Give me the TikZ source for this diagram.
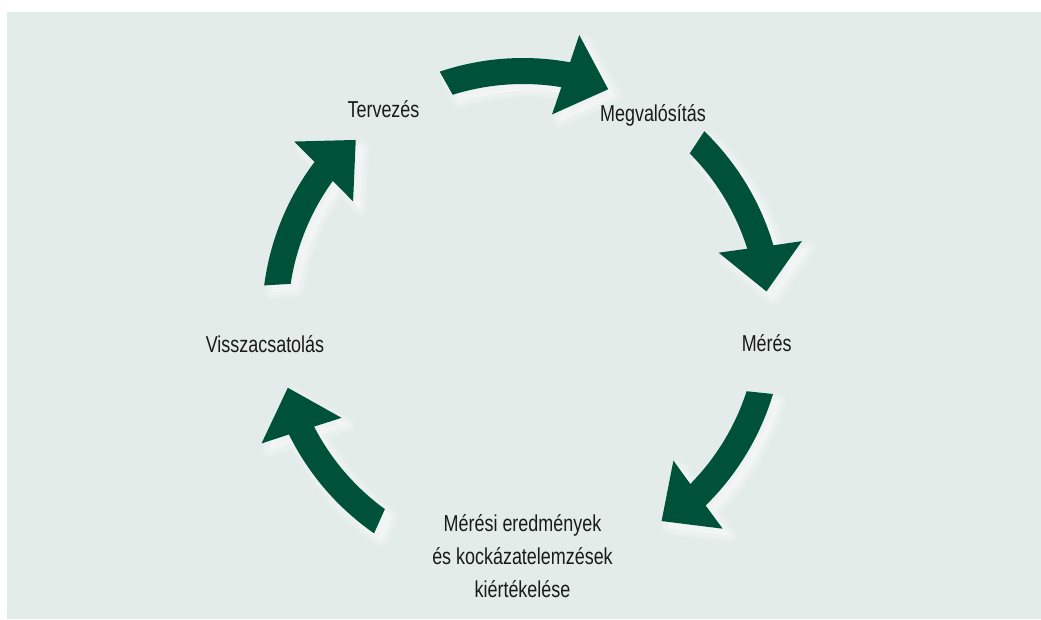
\documentclass[tikz,border=0pt]{standalone}
\usepackage{fontspec}
\setmainfont{Liberation Sans}[FakeStretch=0.78]
\usetikzlibrary{calc}

\definecolor{panel}{HTML}{E3ECE9}
\definecolor{arrowgreen}{HTML}{00513A}
\definecolor{labeltext}{HTML}{1A1A1A}

% One curved arrow of the cycle: #2 = angle of the tail, #3 = angle where the head starts.
% Shaft between radii 235 and 261, head 84 wide and 45 long, tilted slightly inwards.
\newcommand\cyclearrow[3][]{%
  \pgfmathsetmacro\ctail{#2}%
  \pgfmathsetmacro\cjoint{#3}%
  \pgfmathsetmacro\cdir{#3-99}%
  \path[#1] (\ctail+0.6:261) arc[start angle=\ctail+0.6, end angle=\cjoint-0.5, radius=261]
    -- ($(\cjoint:248)+(\cdir+90:42)$)
    -- ($(\cjoint:248)+(\cdir:45)$)
    -- ($(\cjoint:248)+(\cdir-90:42)$)
    -- (\cjoint+0.5:235) arc[start angle=\cjoint+0.5, end angle=\ctail-0.6, radius=235]
    -- cycle;
}

\tikzset{
  steplabel/.style={anchor=base, inner sep=0pt, text=labeltext,
    font=\fontsize{23}{33}\selectfont},
  glowlayer/.style={draw=white, fill=white, opacity=0.13, line join=round, line width=#1},
}

\begin{document}
\begin{tikzpicture}[x=1pt, y=1pt]
  \useasboundingbox (-523,-300) rectangle (518,319);
  \fill[white] (-523,-300) rectangle (518,319);
  \fill[panel] (-516,-300) rectangle (518,307);

  % soft light halo below and right of each arrow
  \begin{scope}[shift={(7,-7)}]
    \foreach \w in {2,6,10,14}{
      \foreach \a/\b in {108/80.1, 45.4/16.9, -17.3/-45.1, 234.6/206.75, 172/143.5}{
        \cyclearrow[glowlayer=\w pt]{\a}{\b}
      }
    }
  \end{scope}

  % the five arrows, running clockwise
  \foreach \a/\b in {108/80.1, 45.4/16.9, -17.3/-45.1, 234.6/206.75, 172/143.5}{
    \cyclearrow[fill=arrowgreen]{\a}{\b}
  }

  \node[steplabel] (plan) at (-139.5,201) {Tervezés};
  \node[steplabel] (do) at (130,197) {Megvalósítás};
  \node[steplabel] (measure) at (243.7,-32.7) {Mérés};
  \node[steplabel] (feedback) at (-258,-33.3) {Visszacsatolás};
  \node[steplabel] (evaluate) at (-0.5,-212.7)
    {\begin{tabular}[t]{@{}c@{}}Mérési eredmények\\ és kockázatelemzések\\ kiértékelése\end{tabular}};
\end{tikzpicture}
\end{document}
